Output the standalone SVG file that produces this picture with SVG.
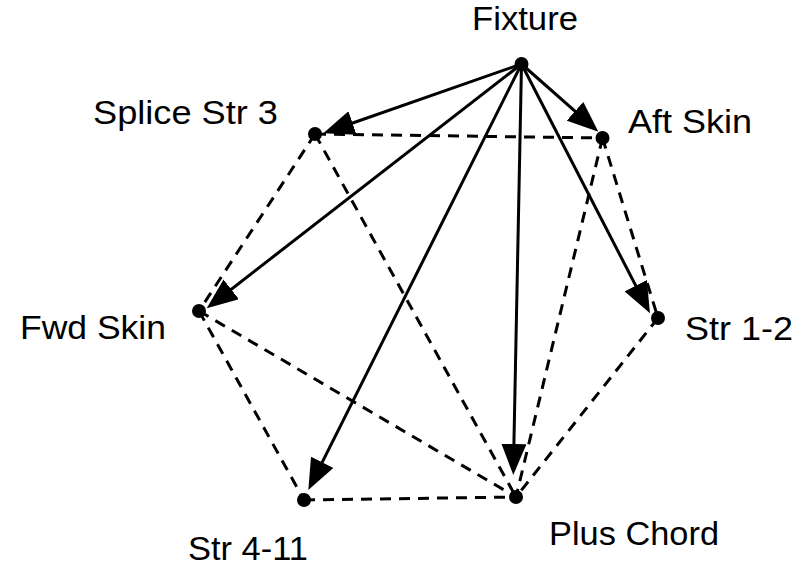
<svg xmlns="http://www.w3.org/2000/svg" width="809" height="569" viewBox="0 0 809 569">
<style>
.lbl{font-family:"Liberation Sans",Arial,sans-serif;font-size:33px;fill:#000}
.dot{fill:#000}
.arr{stroke:#000;stroke-width:3;fill:none;marker-end:url(#ah)}
.dsh{stroke:#000;stroke-width:3;fill:none;stroke-dasharray:11 8}
</style>
<defs>
<marker id="ah" markerUnits="userSpaceOnUse" viewBox="0 0 31 25" refX="21" refY="12.5" markerWidth="31" markerHeight="25" orient="auto">
<path d="M0,0 L31,12.5 L0,25 z" fill="#000"/>
</marker>
</defs>
<rect width="809" height="569" fill="#fff"/>
<g id="connectors">
<line class="dsh" x1="315" y1="134" x2="602.5" y2="138"/>
<line class="dsh" x1="315" y1="134" x2="199" y2="311"/>
<line class="dsh" x1="315" y1="134" x2="516" y2="497"/>
<line class="dsh" x1="602.5" y1="138" x2="658" y2="318"/>
<line class="dsh" x1="602.5" y1="138" x2="516" y2="497"/>
<line class="dsh" x1="199" y1="311" x2="304" y2="500"/>
<line class="dsh" x1="199" y1="311" x2="516" y2="497"/>
<line class="dsh" x1="658" y1="318" x2="516" y2="497"/>
<line class="dsh" x1="304" y1="500" x2="516" y2="497"/>
<line class="arr" x1="521.5" y1="64" x2="332.7" y2="130"/>
<line class="arr" x1="521.5" y1="64" x2="590.8" y2="125.1"/>
<line class="arr" x1="521.5" y1="64" x2="214.6" y2="302.2"/>
<line class="arr" x1="521.5" y1="64" x2="645.4" y2="304.4"/>
<line class="arr" x1="521.5" y1="64" x2="312.8" y2="481.1"/>
<line class="arr" x1="521.5" y1="64" x2="513.5" y2="465"/>
</g>
<g id="fixture"><circle class="dot" cx="521.5" cy="64" r="7"/><text class="lbl" x="472" y="29.5" textLength="106" lengthAdjust="spacingAndGlyphs">Fixture</text></g>
<g id="splice-str-3"><circle class="dot" cx="315" cy="134" r="7"/><text class="lbl" x="93" y="124" textLength="185" lengthAdjust="spacingAndGlyphs">Splice Str 3</text></g>
<g id="aft-skin"><circle class="dot" cx="602.5" cy="138" r="7"/><text class="lbl" x="628" y="133" textLength="124" lengthAdjust="spacingAndGlyphs">Aft Skin</text></g>
<g id="fwd-skin"><circle class="dot" cx="199" cy="311" r="7"/><text class="lbl" x="20" y="339" textLength="146" lengthAdjust="spacingAndGlyphs">Fwd Skin</text></g>
<g id="str-1-2"><circle class="dot" cx="658" cy="318" r="7"/><text class="lbl" x="685" y="340" textLength="108" lengthAdjust="spacingAndGlyphs">Str 1-2</text></g>
<g id="str-4-11"><circle class="dot" cx="304" cy="500" r="7"/><text class="lbl" x="188" y="560" textLength="120" lengthAdjust="spacingAndGlyphs">Str 4-11</text></g>
<g id="plus-chord"><circle class="dot" cx="516" cy="497" r="7"/><text class="lbl" x="549" y="545" textLength="170" lengthAdjust="spacingAndGlyphs">Plus Chord</text></g>
</svg>
